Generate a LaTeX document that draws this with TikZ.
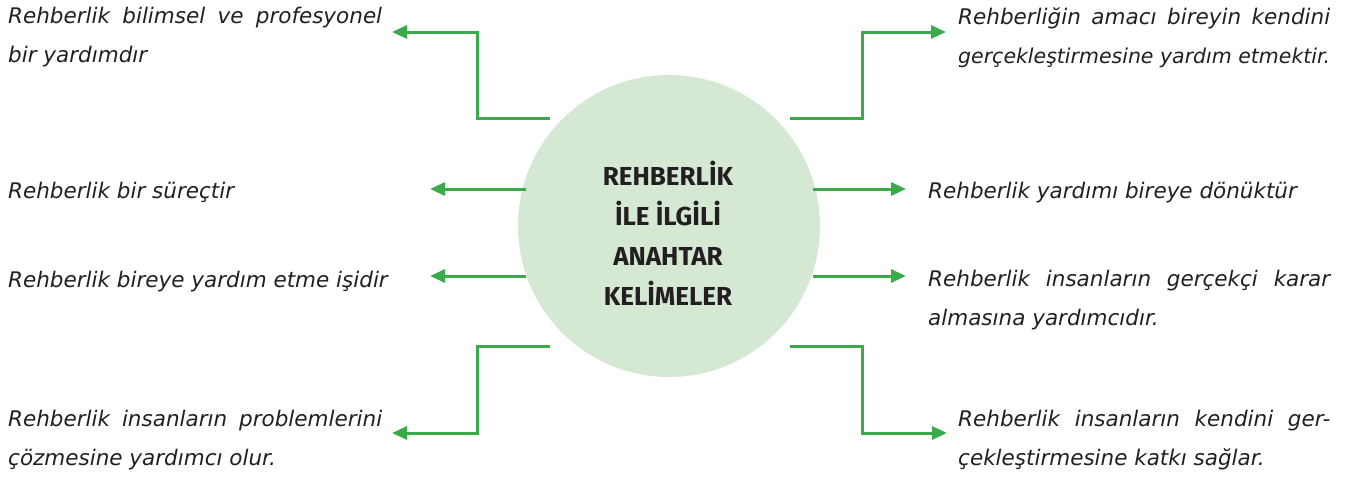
\documentclass[tikz,border=0pt]{standalone}
\usepackage{fontspec}
\usepackage{graphicx}
\setmainfont{Lato}
\newfontfamily\bodyfont{DejaVu Sans Oblique}
\newfontfamily\titlefont{Fira Sans Bold}
\usetikzlibrary{arrows.meta}
\definecolor{lgreen}{HTML}{3BAA4A}
\definecolor{cfill}{HTML}{D5E8D3}
\definecolor{ink}{HTML}{231F20}
\tikzset{
  conn/.style={draw=lgreen, line width=3pt, -{Triangle[length=15pt,width=13pt]}},
  txt/.style={inner sep=0pt, anchor=base west, align=left, text=ink,
    font=\bodyfont\fontsize{21.5}{38.5}\selectfont},
  hub/.style={circle, fill=cfill, minimum size=302pt, inner sep=0pt},
  hubtxt/.style={inner sep=0pt, align=center, text=ink,
    font=\titlefont\fontsize{26}{40}\selectfont}
}
\begin{document}
\begin{tikzpicture}[x=1pt,y=-1pt]
\useasboundingbox (0,0) rectangle (1362,479);
% hub
\node[hub] (c) at (669,226) {};
% anchor=base refers to the last line's baseline
\node[hubtxt, anchor=base] (ct) at (668,305) {REHBERLİK\\İLE İLGİLİ\\ANAHTAR\\KELİMELER};
% texts (base = baseline of the last line)
\node[txt] (tl) at (8,62) {\makebox[374pt][s]{Rehberlik bilimsel ve profesyonel}\\bir yardımdır};
\node[txt] (tr) at (958,63) {\makebox[372pt][s]{Rehberliğin amacı bireyin kendini}\\\resizebox{372pt}{!}{gerçekleştirmesine yardım etmektir.}};
\node[txt] (ml1) at (8,198) {Rehberlik bir süreçtir};
\node[txt] (ml2) at (8,287) {Rehberlik bireye yardım etme işidir};
\node[txt] (mr1) at (928,198) {Rehberlik yardımı bireye dönüktür};
\node[txt] (mr2) at (928,325) {\makebox[402pt][s]{Rehberlik insanların gerçekçi karar}\\almasına yardımcıdır.};
\node[txt] (bl) at (8,465) {\makebox[374pt][s]{Rehberlik insanların problemlerini}\\çözmesine yardımcı olur.};
\node[txt] (br) at (958,465) {\makebox[372pt][s]{Rehberlik insanların kendini ger-}\\çekleştirmesine katkı sağlar.};
% connector start points and tips
\coordinate (s1) at (550,118); \coordinate (e1) at (392,32);
\coordinate (s2) at (790,118); \coordinate (e2) at (946,32);
\coordinate (s3) at (526,189); \coordinate (e3) at (430,189);
\coordinate (s4) at (526,276); \coordinate (e4) at (430,276);
\coordinate (s5) at (813,189); \coordinate (e5) at (906,189);
\coordinate (s6) at (813,276); \coordinate (e6) at (906,276);
\coordinate (s7) at (550,346); \coordinate (e7) at (392,433);
\coordinate (s8) at (790,346); \coordinate (e8) at (947,433);
% connectors
\draw[conn] (s1) -- (477,118) |- (e1);
\draw[conn] (s2) -- (862,118) |- (e2);
\draw[conn] (s3) -- (e3);
\draw[conn] (s4) -- (e4);
\draw[conn] (s5) -- (e5);
\draw[conn] (s6) -- (e6);
\draw[conn] (s7) -- (477,346) |- (e7);
\draw[conn] (s8) -- (862,346) |- (e8);
\end{tikzpicture}
\end{document}
